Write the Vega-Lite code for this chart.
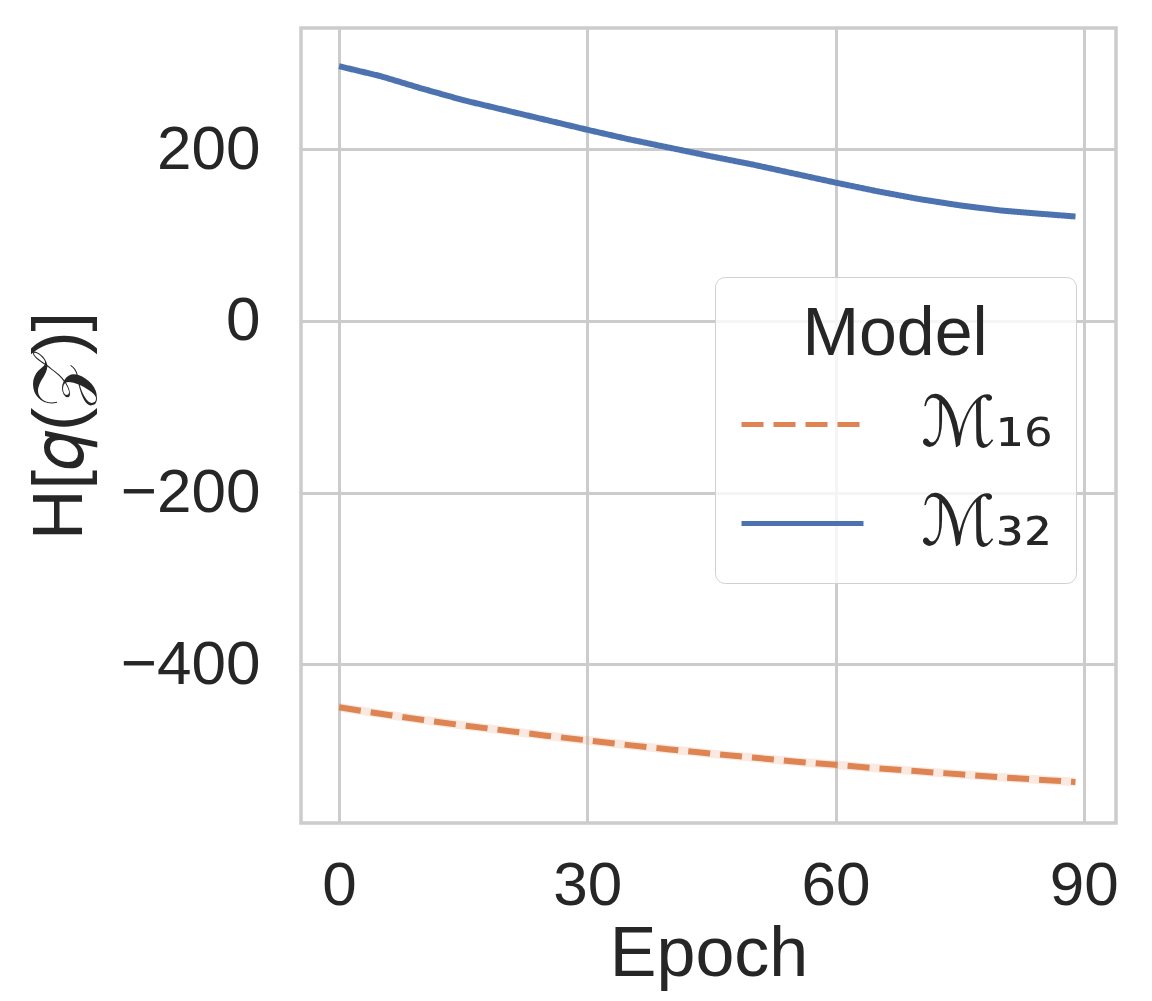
{
  "$schema": "https://vega.github.io/schema/vega-lite/v6.json",
  "width": 815,
  "height": 795,
  "autosize": {"type": "none"},
  "padding": {"left": 301, "top": 28, "right": 36, "bottom": 178},
  "background": "white",
  "config": {
    "font": "Liberation Sans",
    "view": {"stroke": "#cccccc", "strokeWidth": 3.5},
    "axis": {
      "grid": true,
      "gridColor": "#cccccc",
      "gridWidth": 3,
      "domain": false,
      "ticks": false,
      "labelFont": "Liberation Sans",
      "labelFontSize": 62,
      "labelColor": "#262626",
      "titleFont": "Liberation Sans",
      "titleFontSize": 70,
      "titleFontWeight": "normal",
      "titleColor": "#262626"
    }
  },
  "data": {
    "values": [
      {"epoch": 0, "model": "ℳ₃₂", "value": 296.5, "lo": 294.5, "hi": 298.5},
      {"epoch": 5, "model": "ℳ₃₂", "value": 285, "lo": 283, "hi": 287},
      {"epoch": 10, "model": "ℳ₃₂", "value": 270.5, "lo": 268.5, "hi": 272.5},
      {"epoch": 15, "model": "ℳ₃₂", "value": 257, "lo": 255, "hi": 259},
      {"epoch": 20, "model": "ℳ₃₂", "value": 245.5, "lo": 243.5, "hi": 247.5},
      {"epoch": 25, "model": "ℳ₃₂", "value": 234, "lo": 232, "hi": 236},
      {"epoch": 30, "model": "ℳ₃₂", "value": 222.5, "lo": 220.5, "hi": 224.5},
      {"epoch": 35, "model": "ℳ₃₂", "value": 211.5, "lo": 209.5, "hi": 213.5},
      {"epoch": 40, "model": "ℳ₃₂", "value": 201.5, "lo": 199.5, "hi": 203.5},
      {"epoch": 45, "model": "ℳ₃₂", "value": 191.5, "lo": 189.5, "hi": 193.5},
      {"epoch": 50, "model": "ℳ₃₂", "value": 182, "lo": 180, "hi": 184},
      {"epoch": 55, "model": "ℳ₃₂", "value": 171.5, "lo": 169.5, "hi": 173.5},
      {"epoch": 60, "model": "ℳ₃₂", "value": 161, "lo": 159, "hi": 163},
      {"epoch": 65, "model": "ℳ₃₂", "value": 151, "lo": 149, "hi": 153},
      {"epoch": 70, "model": "ℳ₃₂", "value": 142, "lo": 140, "hi": 144},
      {"epoch": 75, "model": "ℳ₃₂", "value": 134.5, "lo": 132.5, "hi": 136.5},
      {"epoch": 80, "model": "ℳ₃₂", "value": 128.5, "lo": 126.5, "hi": 130.5},
      {"epoch": 85, "model": "ℳ₃₂", "value": 124.5, "lo": 122.5, "hi": 126.5},
      {"epoch": 89, "model": "ℳ₃₂", "value": 121.5, "lo": 119.5, "hi": 123.5},
      {"epoch": 0, "model": "ℳ₁₆", "value": -450, "lo": -455, "hi": -445},
      {"epoch": 5, "model": "ℳ₁₆", "value": -457.5, "lo": -462.5, "hi": -452.5},
      {"epoch": 10, "model": "ℳ₁₆", "value": -464.5, "lo": -469.5, "hi": -459.5},
      {"epoch": 15, "model": "ℳ₁₆", "value": -471, "lo": -476, "hi": -466},
      {"epoch": 20, "model": "ℳ₁₆", "value": -477, "lo": -482, "hi": -472},
      {"epoch": 25, "model": "ℳ₁₆", "value": -483, "lo": -488, "hi": -478},
      {"epoch": 30, "model": "ℳ₁₆", "value": -488.5, "lo": -493.5, "hi": -483.5},
      {"epoch": 35, "model": "ℳ₁₆", "value": -494, "lo": -499, "hi": -489},
      {"epoch": 40, "model": "ℳ₁₆", "value": -499, "lo": -504, "hi": -494},
      {"epoch": 45, "model": "ℳ₁₆", "value": -504, "lo": -509, "hi": -499},
      {"epoch": 50, "model": "ℳ₁₆", "value": -508.5, "lo": -513.5, "hi": -503.5},
      {"epoch": 55, "model": "ℳ₁₆", "value": -513, "lo": -518, "hi": -508},
      {"epoch": 60, "model": "ℳ₁₆", "value": -517, "lo": -522, "hi": -512},
      {"epoch": 65, "model": "ℳ₁₆", "value": -521, "lo": -526, "hi": -516},
      {"epoch": 70, "model": "ℳ₁₆", "value": -524.5, "lo": -529.5, "hi": -519.5},
      {"epoch": 75, "model": "ℳ₁₆", "value": -528, "lo": -533, "hi": -523},
      {"epoch": 80, "model": "ℳ₁₆", "value": -531.5, "lo": -536.5, "hi": -526.5},
      {"epoch": 85, "model": "ℳ₁₆", "value": -534.5, "lo": -539.5, "hi": -529.5},
      {"epoch": 89, "model": "ℳ₁₆", "value": -537, "lo": -542, "hi": -532}
    ]
  },
  "encoding": {
    "x": {
      "field": "epoch",
      "type": "quantitative",
      "title": "Epoch",
      "scale": {"domain": [-4.6, 93.9], "nice": false, "zero": false},
      "axis": {"values": [0, 30, 60, 90], "labelPadding": 32, "titlePadding": 4}
    }
  },
  "resolve": {"scale": {"fill": "independent"}},
  "layer": [
    {
      "mark": {"type": "area", "opacity": 0.18},
      "encoding": {
        "y": {"field": "lo", "type": "quantitative"},
        "y2": {"field": "hi"},
        "fill": {
          "field": "model",
          "type": "nominal",
          "scale": {"domain": ["ℳ₁₆", "ℳ₃₂"], "range": ["#dd8452", "#4c72b0"]},
          "legend": null
        }
      }
    },
    {
      "mark": {"type": "line", "strokeWidth": 6, "strokeCap": "butt"},
      "encoding": {
        "y": {
          "field": "value",
          "type": "quantitative",
          "title": "H[𝑞(𝒵)]",
          "scale": {"domain": [-584.7, 341], "nice": false, "zero": false},
          "axis": {"values": [-400, -200, 0, 200], "labelPadding": 41, "titlePadding": 24}
        },
        "color": {
          "field": "model",
          "type": "nominal",
          "scale": {"domain": ["ℳ₁₆", "ℳ₃₂"], "range": ["#dd8452", "#4c72b0"]},
          "legend": {
            "title": "Model",
            "orient": "none",
            "legendX": 414,
            "legendY": 249,
            "fillColor": "rgba(255,255,255,0.8)",
            "strokeColor": "#d0d0d0",
            "cornerRadius": 10,
            "padding": 24,
            "titleFontSize": 68,
            "titleFont": "Liberation Sans",
            "titleFontWeight": "normal",
            "titleColor": "#262626",
            "titleAnchor": "middle",
            "titleLimit": 400,
            "titlePadding": -8,
            "labelFontSize": 70,
            "labelFont": "DejaVu Sans",
            "labelColor": "#262626",
            "labelLimit": 300,
            "symbolType": "stroke",
            "symbolSize": 14884,
            "symbolStrokeWidth": 5,
            "rowPadding": -44,
            "labelOffset": 55
          }
        },
        "strokeDash": {
          "field": "model",
          "type": "nominal",
          "scale": {"domain": ["ℳ₁₆", "ℳ₃₂"], "range": [[22, 10], [1, 0]]},
          "legend": {"title": "Model"}
        }
      }
    }
  ]
}
